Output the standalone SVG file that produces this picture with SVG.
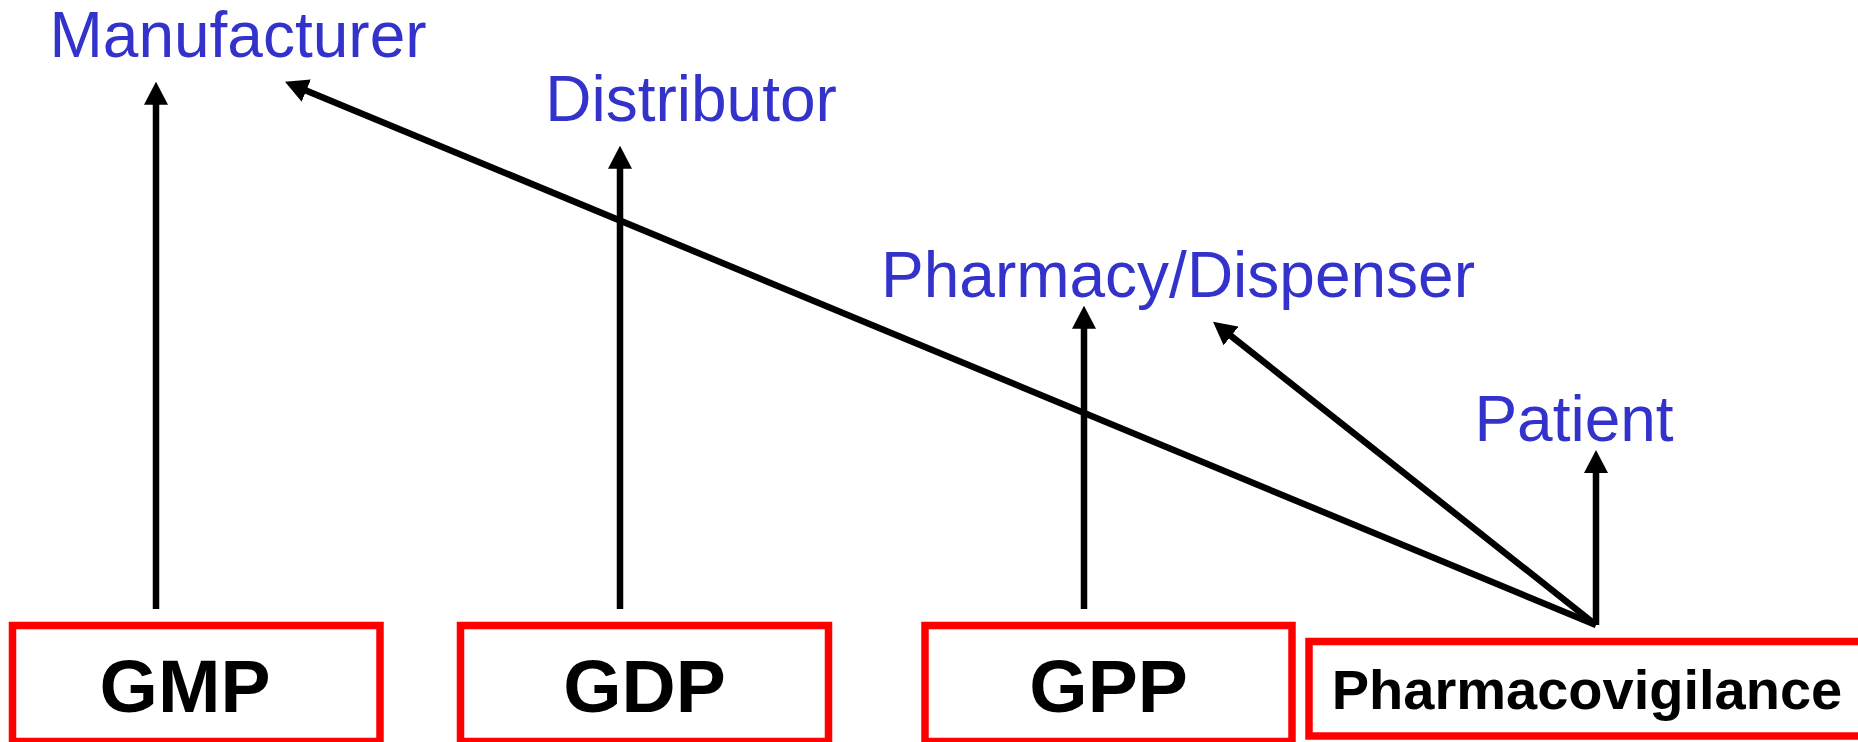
<svg xmlns="http://www.w3.org/2000/svg" width="1858" height="742" viewBox="0 0 1858 742">
<style>
.box{fill:#FFFFFF;stroke:#FF0000;stroke-width:7.5}
.bt{font-family:"Liberation Sans",Arial,sans-serif;font-weight:bold;fill:#000000;text-anchor:middle}
.lbl{font-family:"Liberation Sans",Arial,sans-serif;font-size:64px;fill:#3333CC;text-anchor:middle}
.conn{stroke:#000000;stroke-width:6.5;fill:none;marker-end:url(#ah)}
</style>
<defs>
<marker id="ah" markerUnits="userSpaceOnUse" viewBox="0 0 23 24" refX="3" refY="12" markerWidth="23" markerHeight="24" orient="auto">
<path d="M0,0 L23,12 L0,24 z" fill="#000000"/>
</marker>
</defs>
<rect width="1858" height="742" fill="#FFFFFF"/>
<g id="label-manufacturer"><text class="lbl" x="238" y="57">Manufacturer</text></g>
<g id="label-distributor"><text class="lbl" x="691" y="121">Distributor</text></g>
<g id="label-pharmacy"><text class="lbl" x="1178" y="297">Pharmacy/Dispenser</text></g>
<g id="label-patient"><text class="lbl" x="1574" y="441">Patient</text></g>
<g id="connectors">
<line class="conn" x1="156" y1="609" x2="156" y2="101.7"/>
<line class="conn" x1="620" y1="609" x2="620" y2="165.7"/>
<line class="conn" x1="1084" y1="609" x2="1084" y2="325.7"/>
<line class="conn" x1="1596" y1="625" x2="1596" y2="470"/>
<line class="conn" x1="1596" y1="625" x2="1228.7" y2="334.1"/>
<line class="conn" x1="1596" y1="625" x2="303.5" y2="89.4"/>
</g>
<g id="node-gmp"><rect class="box" x="12.5" y="625.5" width="367.5" height="116"/><text class="bt" x="185" y="712" font-size="75">GMP</text></g>
<g id="node-gdp"><rect class="box" x="460.5" y="625.5" width="368" height="116"/><text class="bt" x="644.5" y="712" font-size="75">GDP</text></g>
<g id="node-gpp"><rect class="box" x="925" y="625.5" width="367" height="116"/><text class="bt" x="1108.5" y="712" font-size="75">GPP</text></g>
<g id="node-pv"><rect class="box" x="1309" y="641.5" width="560" height="94.5"/><text class="bt" x="1587" y="709" font-size="56">Pharmacovigilance</text></g>
</svg>
